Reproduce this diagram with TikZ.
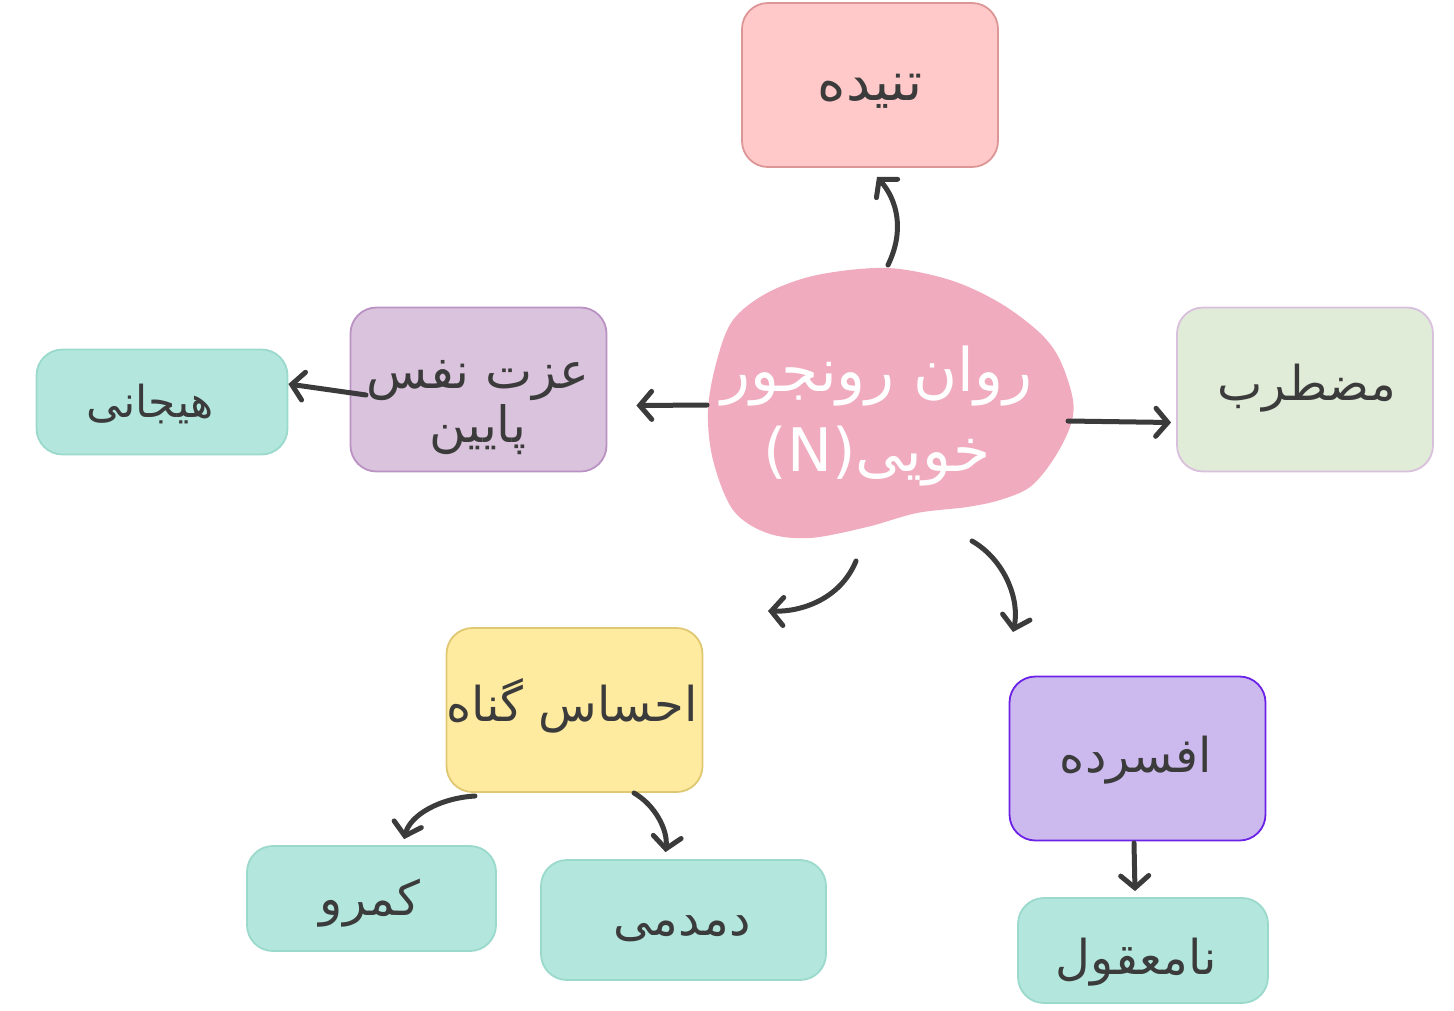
\documentclass[tikz,border=0pt]{standalone}
\usepackage{fontspec}
\newfontfamily\arabicfont[Script=Arabic]{DejaVu Sans}
\TeXXeTstate=1
\usetikzlibrary{arrows.meta}
\definecolor{ink}{HTML}{3B3B3B}
\definecolor{tensefill}{HTML}{FFC9C9}
\definecolor{tensedraw}{HTML}{DD9696}
\definecolor{corefill}{HTML}{F0ABBF}
\definecolor{selffill}{HTML}{DAC3DC}
\definecolor{selfdraw}{HTML}{BA93C4}
\definecolor{anxfill}{HTML}{E0EBD8}
\definecolor{anxdraw}{HTML}{D9C0DD}
\definecolor{guiltfill}{HTML}{FFEBA0}
\definecolor{guiltdraw}{HTML}{E0C872}
\definecolor{sadfill}{HTML}{CCBAEF}
\definecolor{saddraw}{HTML}{6B22E6}
\definecolor{leaffill}{HTML}{B3E7DE}
\definecolor{leafdraw}{HTML}{9AD9CB}
\tikzset{
  box/.style={
    draw,
    rectangle,
    rounded corners=26pt,
    line width=1.8pt,
    minimum width=256pt,
    minimum height=164pt,
    inner sep=0pt
  },
  leaf/.style={
    box,
    fill=leaffill,
    draw=leafdraw,
    minimum width=250pt,
    minimum height=105pt
  },
  word/.style={
    text=ink,
    align=center,
    font=\arabicfont\fontsize{48}{56}\selectfont
  },
  arr/.style={
    draw=ink,
    line width=5pt,
    line cap=round,
    -{Straight Barb[length=12pt, width=28pt, line cap=round]}
  }
}

\begin{document}
\begin{tikzpicture}[x=1pt, y=-1pt]
    \useasboundingbox (0,0) rectangle (1454,1010);

    % central blob
    \fill[corefill] plot[smooth cycle, tension=0.55] coordinates {
      (887,268) (950,280) (1000,303) (1040,333) (1060,360) (1073,400)
      (1070,427) (1053,460) (1030,487) (1000,500) (967,507) (917,513)
      (867,527) (810,538) (767,533) (733,510) (713,460) (708,410)
      (717,360) (733,320) (767,293) (817,275)};
    \node[word, text=white, font=\arabicfont\fontsize{60}{80}\selectfont] (core) at (877,416)
      {\beginR روان رونجور\endR\\ \beginR خویی\beginL(N)\endL\endR};

    \node[box, fill=tensefill, draw=tensedraw] (tense) at (870,85) {};
    \node[word, font=\arabicfont\fontsize{54}{60}\selectfont] at (870,91) {\beginR تنیده\endR};

    \node[box, fill=selffill, draw=selfdraw] (self) at (478.5,389.5) {};
    \node[word, font=\arabicfont\fontsize{50}{54}\selectfont] at (478,408)
      {\beginR عزت نفس\endR\\ \beginR پایین\endR};

    \node[leaf, minimum width=251pt] (excited) at (162,402) {};
    \node[word, font=\arabicfont\fontsize{44}{50}\selectfont] at (150,404) {\beginR هیجانی\endR};

    \node[box, fill=anxfill, draw=anxdraw] (anx) at (1305,389.5) {};
    \node[word] at (1307,388) {\beginR مضطرب\endR};

    \node[box, fill=guiltfill, draw=guiltdraw] (guilt) at (574.5,710) {};
    \node[word] at (572,706) {\beginR احساس گناه\endR};

    \node[box, fill=sadfill, draw=saddraw] (sad) at (1137.5,758.5) {};
    \node[word] at (1136,760) {\beginR افسرده\endR};

    \node[leaf] (absurd) at (1143,950.5) {};
    \node[word] at (1136,962) {\beginR نامعقول\endR};

    \node[leaf, minimum width=249pt] (shy) at (371.5,898.5) {};
    \node[word] at (370,903) {\beginR کمرو\endR};

    \node[leaf, minimum width=285pt, minimum height=120pt] (moody) at (683.5,920) {};
    \node[word] at (682,929) {\beginR دمدمی\endR};

    % arrow ends
    \coordinate (core-n) at (888,265);
    \coordinate (core-w) at (707,405);
    \coordinate (core-e) at (1068,421);
    \coordinate (core-sw) at (856,561);
    \coordinate (core-se) at (972,541);
    \coordinate (self-w) at (366,395);
    \coordinate (guilt-sw) at (475,796);
    \coordinate (guilt-se) at (634,793);
    \coordinate (sad-s) at (1134,843);
    \coordinate (to-guilt) at (768,611);
    \coordinate (to-sad) at (1013,632);

    \draw[arr] (core-n) .. controls (905,230) and (897,200) .. ([xshift=7pt, yshift=-9pt]tense.south);
    \draw[arr] (core-w) -- ([xshift=29pt, yshift=-16pt]self.east);
    \draw[arr] (core-e) -- ([xshift=-5pt, yshift=-33pt]anx.west);
    \draw[arr] (self-w) -- ([yshift=18pt]excited.east);
    \draw[arr] (core-sw) .. controls (840,600) and (800,612) .. (to-guilt);
    \draw[arr] (core-se) .. controls (1005,560) and (1020,600) .. (to-sad);
    \draw[arr] (guilt-sw) .. controls (440,798) and (410,815) .. ([xshift=158pt, yshift=6pt]shy.north west);
    \draw[arr] (guilt-se) .. controls (655,805) and (668,830) .. ([xshift=-18pt, yshift=7pt]moody.north);
    \draw[arr] (sad-s) -- ([xshift=-8pt, yshift=6pt]absurd.north);
    \end{tikzpicture}
\end{document}
